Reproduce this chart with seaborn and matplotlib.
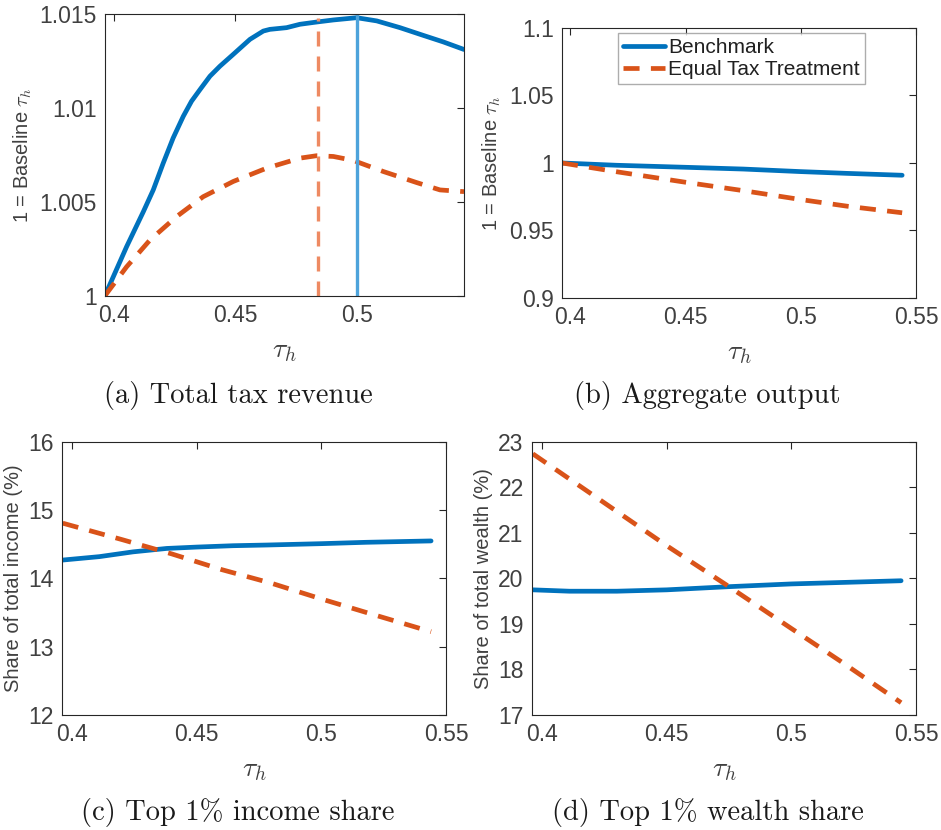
import numpy as np
import pandas as pd
import seaborn as sns
import matplotlib.pyplot as plt

# tau_h grid and series
tau_a_bench = [0.3961, 0.4051, 0.4120, 0.4161, 0.4202, 0.4243, 0.4285, 0.4319, 0.4354, 0.4395,
               0.4436, 0.4491, 0.4560, 0.4615, 0.4642, 0.4711, 0.4766, 0.4835, 0.4904, 0.5000,
               0.5083, 0.5179, 0.5275, 0.5358, 0.5443]
rev_bench = [1.0000, 1.00262, 1.00448, 1.00564, 1.00706, 1.00840, 1.00956, 1.01036, 1.01098, 1.01169,
             1.01222, 1.01285, 1.01365, 1.01409, 1.01418, 1.01427, 1.01445, 1.01457, 1.01468, 1.01480,
             1.01463, 1.01427, 1.01386, 1.01351, 1.01311]
tau_a_equal = [0.3961, 0.4051, 0.4147, 0.4257, 0.4367, 0.4491, 0.4629, 0.4766, 0.4835, 0.4904,
               0.4986, 0.5110, 0.5248, 0.5344, 0.5443]
rev_equal = [1.0000, 1.00155, 1.00297, 1.00422, 1.00528, 1.00609, 1.00680, 1.00733, 1.00746, 1.00742,
             1.00721, 1.00662, 1.00603, 1.00564, 1.00555]
opt_bench = 0.500
opt_equal = 0.4842

tau_b = [0.3963, 0.42, 0.45, 0.475, 0.50, 0.52, 0.544]
out_bench = [1.0000, 0.9983, 0.9968, 0.9955, 0.9936, 0.9923, 0.9909]
out_equal = [1.0000, 0.9935, 0.9857, 0.9795, 0.9729, 0.9680, 0.9631]

tau_c = [0.3963, 0.411, 0.4245, 0.438, 0.45, 0.4646, 0.478, 0.50, 0.518, 0.544]
inc_bench = [14.27, 14.32, 14.39, 14.44, 14.46, 14.48, 14.49, 14.51, 14.53, 14.55]
tau_c2 = [0.3963, 0.42, 0.44, 0.46, 0.48, 0.50, 0.52, 0.544]
inc_equal = [14.81, 14.57, 14.36, 14.13, 13.93, 13.70, 13.48, 13.22]

tau_d = [0.3963, 0.411, 0.43, 0.45, 0.475, 0.50, 0.544]
wel_bench = [19.75, 19.72, 19.72, 19.75, 19.82, 19.88, 19.95]
tau_d2 = [0.3963, 0.42, 0.45, 0.475, 0.50, 0.52, 0.544]
wel_equal = [22.74, 21.85, 20.72, 19.82, 18.90, 18.17, 17.27]

captions = ["(a) Total tax revenue", "(b) Aggregate output",
            "(c) Top 1% income share", "(d) Top 1% wealth share"]

sns.set_style("white")
plt.rcParams["font.family"] = ["Liberation Sans", "DejaVu Sans"]
plt.rcParams["mathtext.fontset"] = "cm"

BLUE = "#0072BD"
RED = "#D95319"
TXT = "#404040"

fig = plt.figure(figsize=(9.41, 8.30), dpi=100)
ax_a = fig.add_axes([0.1116, 0.6434, 0.3815, 0.3398])
ax_b = fig.add_axes([0.5972, 0.6410, 0.3762, 0.3253])
ax_c = fig.add_axes([0.0659, 0.1386, 0.4081, 0.3289])
ax_d = fig.add_axes([0.5654, 0.1386, 0.4081, 0.3289])

lw = 3.4
dash = (3.4, 2.4)


def draw(ax, xb, yb, xe, ye, label=True):
    sns.lineplot(x=xb, y=yb, ax=ax, color=BLUE, lw=lw, label="Benchmark" if label else None)
    sns.lineplot(x=xe, y=ye, ax=ax, color=RED, lw=lw, dashes=False,
                 label="Equal Tax Treatment" if label else None)
    ax.lines[-1].set_dashes(dash)


draw(ax_a, tau_a_bench, rev_bench, tau_a_equal, rev_equal, label=False)
ax_a.plot([opt_equal, opt_equal], [1.0, 1.0148], color="#EE8A62", lw=2.4, dashes=(4.5, 3.0))
ax_a.plot([opt_bench, opt_bench], [1.0, 1.015], color="#4DA3DB", lw=2.4)
ax_a.set_xlim(0.3962, 0.5443)
ax_a.set_ylim(1.0, 1.015)
ax_a.set_xticks([0.4, 0.45, 0.5])
ax_a.set_xticklabels(["0.4", "0.45", "0.5"])
ax_a.set_yticks([1.0, 1.005, 1.01, 1.015])
ax_a.set_yticklabels(["1", "1.005", "1.01", "1.015"])
ax_a.set_ylabel(r"1 = Baseline $\tau_h$")

draw(ax_b, tau_b, out_bench, tau_b, out_equal)
ax_b.set_xlim(0.3963, 0.55)
ax_b.set_ylim(0.9, 1.1)
ax_b.set_xticks([0.4, 0.45, 0.5, 0.55])
ax_b.set_xticklabels(["0.4", "0.45", "0.5", "0.55"])
ax_b.set_yticks([0.9, 0.95, 1.0, 1.05, 1.1])
ax_b.set_yticklabels(["0.9", "0.95", "1", "1.05", "1.1"])
ax_b.set_ylabel(r"1 = Baseline $\tau_h$")
leg = ax_b.legend(loc="upper left", bbox_to_anchor=(0.158, 0.982), fontsize=15,
                  frameon=True, fancybox=False, handlelength=2.0, handletextpad=0.15,
                  borderpad=0.25, labelspacing=0.15, borderaxespad=0)
leg.get_frame().set_edgecolor("#999999")
leg.get_frame().set_linewidth(1.0)
for t in leg.get_texts():
    t.set_color("#202020")

draw(ax_c, tau_c, inc_bench, tau_c2, inc_equal, label=False)
ax_c.set_xlim(0.396, 0.55)
ax_c.set_ylim(12, 16)
ax_c.set_xticks([0.4, 0.45, 0.5, 0.55])
ax_c.set_xticklabels(["0.4", "0.45", "0.5", "0.55"])
ax_c.set_yticks([12, 13, 14, 15, 16])
ax_c.set_ylabel("Share of total income (%)")

draw(ax_d, tau_d, wel_bench, tau_d2, wel_equal, label=False)
ax_d.set_xlim(0.396, 0.55)
ax_d.set_ylim(17, 23)
ax_d.set_xticks([0.4, 0.45, 0.5, 0.55])
ax_d.set_xticklabels(["0.4", "0.45", "0.5", "0.55"])
ax_d.set_yticks([17, 18, 19, 20, 21, 22, 23])
ax_d.set_ylabel("Share of total wealth (%)")

for ax in [ax_a, ax_b, ax_c, ax_d]:
    ax.set_xlabel(r"$\tau_h$", fontsize=20, color=TXT, labelpad=8)
    ax.yaxis.label.set_color(TXT)
    ax.yaxis.label.set_size(14.5)
    ax.yaxis.labelpad = 4
    ax.tick_params(direction="in", length=5, width=0.8, top=True, right=True,
                   labelsize=16.5, colors="#262626", labelcolor=TXT, pad=6)
    for s in ax.spines.values():
        s.set_visible(True)
        s.set_color("#262626")
        s.set_linewidth(0.8)

cap_pos = [(0.253, 0.524), (0.752, 0.524), (0.253, 0.021), (0.752, 0.021)]
for (x, y), c in zip(cap_pos, captions):
    fig.text(x, y, c, ha="center", va="center", fontsize=20.5,
             family=["cmr10", "DejaVu Serif"], color="#1a1a1a")

fig.savefig("out.png", dpi=100)
